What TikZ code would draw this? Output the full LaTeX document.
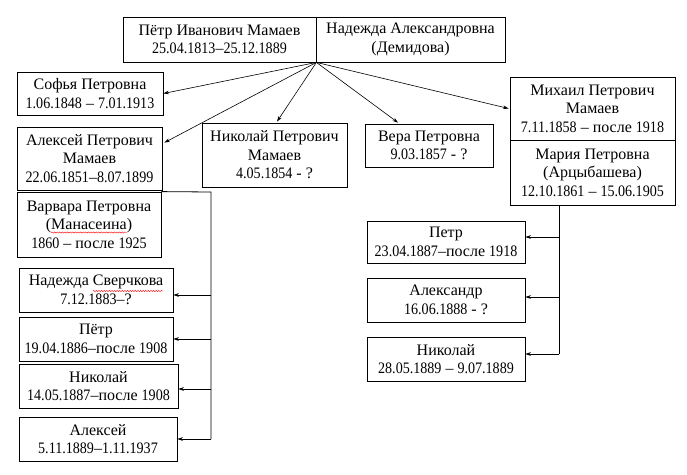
\documentclass[tikz,border=0pt]{standalone}
\usepackage{fontspec}
\setmainfont{Liberation Serif}
\newfontfamily\numfont{Liberation Serif}[FakeStretch=0.88]
\usetikzlibrary{arrows.meta,decorations.pathmorphing}
\newcommand\bigf{\fontsize{16}{18.4}\selectfont}
\newcommand\nm[1]{{\numfont #1}}
\newlength\lenA \newlength\lenB \newlength\lenC \newlength\lenD \newlength\lenE
\tikzset{
  box/.style={draw, line width=0.8pt, align=center, inner sep=0pt, font=\bigf},
  arr/.style={line width=0.6pt, -{Stealth[length=5.5pt,width=3.6pt]}},
  bus/.style={line width=0.8pt},
  spell/.style={red, line width=0.4pt, decorate,
    decoration={snake, segment length=2.6pt, amplitude=0.6pt}}
}
\begin{document}
\settowidth\lenA{\bigf (Манасеина)}%
\settowidth\lenB{\bigf (}%
\settowidth\lenC{\bigf Манасеина}%
\settowidth\lenD{\bigf Надежда Сверчкова}%
\settowidth\lenE{\bigf Сверчкова}%
\begin{tikzpicture}[x=1pt,y=-1pt]
\useasboundingbox (0,0) rectangle (687,474);
% parents
\node[box, minimum width=193pt, minimum height=45pt] (pyotr) at (219.5,39.5) {Пётр Иванович Мамаев\\\nm{25.04.1813}–\nm{25.12.1889}};
\node[box, minimum width=189pt, minimum height=45pt] (nadezhda) at (410.5,39.5) {Надежда Александровна\\(Демидова)};
% children
\node[box, minimum width=146pt, minimum height=43pt] (sofya) at (90,93.5) {Софья Петровна\\\nm{1.06.1848} – \nm{7.01.1913}};
\node[box, minimum width=145pt, minimum height=63pt] (alexeyP) at (89.5,158.5) {Алексей Петрович\\Мамаев\\\nm{22.06.1851}–\nm{8.07.1899}};
\node[box, minimum width=144pt, minimum height=65pt] (varvara) at (89,224.5) {Варвара Петровна\\(Манасеина)\\\nm{1860} – после \nm{1925}};
\node[box, minimum width=145pt, minimum height=64pt] (nikolaiP) at (274.5,155) {Николай Петрович\\Мамаев\\\nm{4.05.1854} - ?};
\node[box, minimum width=128pt, minimum height=43pt] (vera) at (429,145.5) {Вера Петровна\\\nm{9.03.1857} - ?};
\node[box, minimum width=165pt, minimum height=63pt] (mikhail) at (592.5,108.5) {Михаил Петрович\\Мамаев\\\nm{7.11.1858} – после \nm{1918}};
\node[box, minimum width=165pt, minimum height=65pt] (maria) at (592.5,172.5) {Мария Петровна\\(Арцыбашева)\\\nm{12.10.1861} – \nm{15.06.1905}};
% grandchildren (Varvara)
\node[box, minimum width=154pt, minimum height=44pt] (sverch) at (96,290) {Надежда Сверчкова\\\nm{7.12.1883}–?};
\node[box, minimum width=154pt, minimum height=44pt] (pyotr2) at (96,339) {Пётр\\\nm{19.04.1886}–после \nm{1908}};
\node[box, minimum width=159pt, minimum height=44pt] (nikolai2) at (98.5,386) {Николай\\\nm{14.05.1887}–после \nm{1908}};
\node[box, minimum width=158pt, minimum height=44pt] (alexey2) at (98,439) {Алексей\\\nm{5.11.1889}–\nm{1.11.1937}};
% grandchildren (Maria)
\node[box, minimum width=158pt, minimum height=42pt] (petr3) at (446,242) {Петр\\\nm{23.04.1887}–после \nm{1918}};
\node[box, minimum width=158pt, minimum height=44pt] (alexandr) at (446,300) {Александр\\\nm{16.06.1888} - ?};
\node[box, minimum width=158pt, minimum height=44pt] (nikolai3) at (446,359) {Николай\\\nm{28.05.1889} – \nm{9.07.1889}};

% spell-check underlines
\draw[spell] ([xshift={-0.5*\lenA+\lenB}, yshift=-8pt]varvara.center) -- ++(\lenC,0pt);
\draw[spell] ([xshift={0.5*\lenD-\lenE}, yshift=-1pt]sverch.center) -- ++(\lenE,0pt);

% arrows from parents
\coordinate (o) at (pyotr.south east);
\coordinate (tA) at ([xshift=2pt,yshift=-16pt]alexeyP.north east);
\coordinate (tN) at ([xshift=2.5pt,yshift=1pt]nikolaiP.north);
\coordinate (tV) at ([xshift=-31pt,yshift=1pt]vera.north);
\draw[arr] (o) -- (sofya.east);
\draw[arr] (o) -- (tA);
\draw[arr] (o) -- (tN);
\draw[arr] (o) -- (tV);
\draw[arr] (o) -- ([xshift=-1pt]mikhail.west);

% Varvara's children
\coordinate (vtop) at (211,192);
\coordinate (vbot) at (211,439);
\coordinate (g1) at ([yshift=-5pt]sverch.east);
\coordinate (g2) at (pyotr2.east);
\coordinate (g3) at ([yshift=-3pt]nikolai2.east);
\coordinate (g4) at (alexey2.east);
\draw[bus] (varvara.north east) -- (vtop) -- (vbot);
\draw[arr] (vtop |- g1) -- (g1);
\draw[arr] (vtop |- g2) -- (g2);
\draw[arr] (vtop |- g3) -- (g3);
\draw[arr] (vbot) -- (g4);

% Maria's children
\coordinate (mtop) at ([xshift=-33.5pt]maria.south);
\coordinate (h1) at ([yshift=5pt]petr3.east);
\coordinate (h2) at ([yshift=3pt]alexandr.east);
\coordinate (h3) at ([yshift=5pt]nikolai3.east);
\draw[bus] (mtop) -- (mtop |- h3);
\draw[arr] (mtop |- h1) -- (h1);
\draw[arr] (mtop |- h2) -- (h2);
\draw[arr] (mtop |- h3) -- (h3);
\end{tikzpicture}
\end{document}
